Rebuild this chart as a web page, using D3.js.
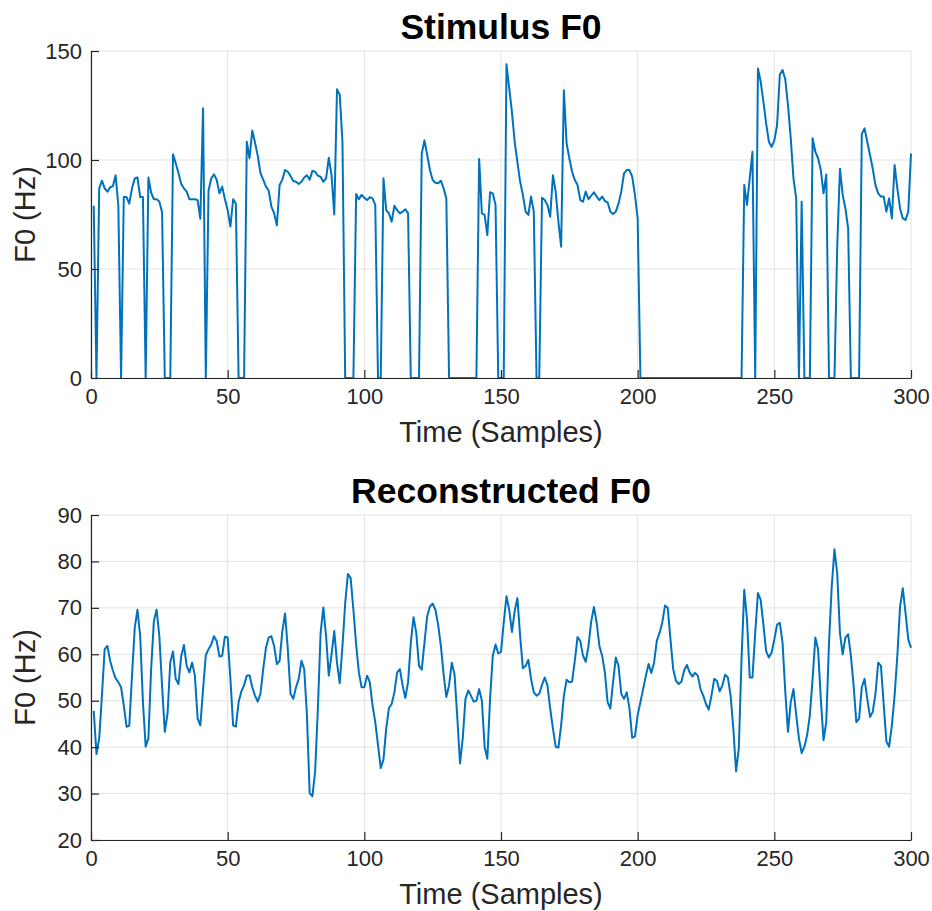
<!DOCTYPE html>
<html>
<head>
<meta charset="utf-8">
<script src="https://cdn.jsdelivr.net/npm/d3@7"></script>
<style>
  html, body { margin: 0; padding: 0; background: #fff; }
  svg { display: block; }
  text { font-family: "Liberation Sans", Arial, Helvetica, sans-serif; }
</style>
</head>
<body>
<svg id="chart" width="932" height="911"></svg>
<script>
// ---- DATA (samples 1..300) ----
const stimulusF0 = [
  79, 0, 87, 90.5, 87, 85.5, 87.5, 88, 93, 79,
  0, 83, 83, 80, 87, 91.5, 92, 83, 83, 0,
  92, 85, 82, 82, 81, 76, 0, 0, 0, 102.6,
  98.5, 94, 89, 87, 85.5, 82, 82, 82, 81.6, 73,
  123.7, 0, 86, 91.6, 93.4, 90.8, 84.7, 87.8, 82, 77,
  69.5, 82, 80, 0, 0, 0, 108.4, 100.8, 113.5, 108,
  102, 94, 91, 87.8, 86, 78.6, 75.5, 70, 88.5, 91,
  95.4, 94.6, 92.7, 90.4, 90, 89, 90, 92, 93, 91,
  95, 94.6, 92.8, 92.3, 90, 91.6, 101, 93, 75, 132.4,
  130, 108.4, 0, 0, 0, 0, 84.4, 82, 84, 82.7,
  81.6, 82.9, 82.4, 79.4, 0, 0, 91.6, 77, 75.5, 71.7,
  79, 77, 75.5, 76.3, 77.4, 75.5, 0, 0, 0, 0,
  103, 109, 102.3, 95.4, 90.8, 89.6, 89.3, 90.5, 87, 82.4,
  0, 0, 0, 0, 0, 0, 0, 0, 0, 0,
  0, 100.5, 75.5, 74.8, 65.6, 85.2, 84.7, 79.4, 0, 0,
  0, 143.9, 133, 122, 108.4, 99, 90, 84, 76.3, 74.8,
  83.2, 76.3, 0, 0, 82.7, 81.6, 79.4, 74, 93, 85.5,
  71.7, 60.2, 132, 107.6, 100.8, 94.6, 90.8, 88.5, 81.6, 80.9,
  85.5, 82, 83.6, 85.2, 83.2, 81.6, 83.2, 81.2, 80.6, 76.3,
  75.2, 76.3, 80, 85.5, 93.9, 95.4, 95.4, 92.4, 84, 73.2,
  0, 0, 0, 0, 0, 0, 0, 0, 0, 0,
  0, 0, 0, 0, 0, 0, 0, 0, 0, 0,
  0, 0, 0, 0, 0, 0, 0, 0, 0, 0,
  0, 0, 0, 0, 0, 0, 0, 0, 88.5, 79.4,
  91.6, 103.8, 0, 142, 136, 126.8, 116.8, 108.4, 106, 109,
  116, 139, 141.3, 137, 125, 110, 91.6, 82.4, 0, 80.9,
  0, 0, 0, 110, 103.8, 100.8, 95.4, 84.7, 93.4, 0,
  0, 0, 60, 96, 84, 77.8, 68.7, 0, 0, 0,
  0, 112, 114.5, 108.4, 102.3, 96, 88.5, 84.7, 83.2, 83.2,
  76.3, 82.4, 73.2, 97.7, 87, 77.8, 73.2, 72.5, 76.3, 103
];

const reconstructedF0 = [
  47.8, 38.5, 41.9, 51.1, 61.1, 61.8, 58.6, 56.5, 54.8, 54,
  52.9, 49, 44.4, 44.6, 55.4, 65.7, 69.6, 63.9, 49.7, 40.1,
  41.9, 56.8, 67.1, 69.6, 63.9, 53.2, 43.3, 47.2, 58.3, 60.6,
  54.7, 53.6, 59.6, 62, 57.5, 56.1, 58.2, 55.4, 46.2, 44.7,
  52.5, 59.8, 61.1, 62.1, 63.9, 62.8, 59.5, 59.7, 63.8, 63.6,
  54.7, 44.7, 44.4, 49.7, 52, 53.3, 55.4, 55.5, 52.9, 51.1,
  49.8, 51.5, 56.8, 61.4, 63.6, 63.9, 61.8, 57.9, 58.6, 65,
  68.8, 61.1, 51.5, 50.4, 52.9, 54.7, 58.6, 56.8, 46.9, 30.1,
  29.4, 34.8, 48.3, 64.6, 70.1, 63.9, 55.4, 60, 65, 58.2,
  53.8, 61.8, 71, 77.3, 76.4, 69.6, 62.1, 56.1, 52.9, 52.9,
  55.4, 54, 49, 45.4, 40.5, 35.5, 37.3, 44, 48.4, 49.3,
  51.8, 56.1, 56.8, 53.3, 50.6, 54, 62.5, 68, 64.6, 57.5,
  56.7, 62.5, 68.2, 70.3, 70.9, 69.6, 66.4, 61.8, 55.7, 50.8,
  53.3, 58.2, 55.7, 46.5, 36.5, 41.9, 50.4, 52.2, 51.1, 49.8,
  50, 52.5, 50, 40.1, 37.5, 50.4, 59.7, 62.1, 60.2, 60.5,
  66.8, 72.5, 69.6, 64.8, 69.3, 72.1, 63.9, 57, 57.5, 58.8,
  54.7, 51.8, 51.1, 51.5, 53.4, 55, 53.3, 48.3, 44, 40.1,
  39.9, 44.7, 51.1, 54.5, 54, 54.1, 58.6, 63.7, 62.9, 59.7,
  58.4, 61.8, 67.1, 70.2, 66.8, 61.8, 59.7, 56.1, 49.7, 48.3,
  54, 59.3, 57.5, 51.5, 50.4, 51.8, 48.3, 42, 42.3, 46.9,
  49.7, 52.5, 55.4, 57.9, 56, 58.2, 62.9, 64.6, 66.8, 70.5,
  70, 63.2, 56.8, 54.3, 53.6, 54.1, 56.5, 57.7, 56.1, 55.2,
  56, 55.4, 52.5, 51.1, 49.3, 48.1, 51.1, 54.7, 54.3, 52,
  53.3, 55.6, 55, 51.1, 44, 34.8, 39.7, 58.9, 73.9, 67.5,
  55, 55, 64.6, 73.2, 71.7, 66.4, 60.7, 59.3, 60.4, 63.2,
  66.4, 66.8, 62.5, 52, 43.3, 49.7, 52.5, 46.9, 41.9, 38.7,
  40.1, 42.6, 46.9, 54.7, 63.6, 61.1, 50.4, 41.5, 45.4, 62.5,
  74.6, 82.6, 77.4, 64.6, 60, 63.6, 64.3, 59.7, 53.3, 45.4,
  46.1, 52.9, 54.7, 50.4, 46.5, 47.6, 51.5, 58.2, 57.5, 49.3,
  41.2, 40.1, 44.7, 51.1, 59.7, 70.3, 74.2, 68.9, 63.2, 61.4
];

const xTicks = [0, 50, 100, 150, 200, 250, 300];
const stimYTicks = [0, 50, 100, 150];
const reconYTicks = [20, 30, 40, 50, 60, 70, 80, 90];
const titles = ["Stimulus F0", "Reconstructed F0"];
const xLabel = "Time (Samples)";
const yLabel = "F0 (Hz)";

// ---- DRAW ----
const svg = d3.select("#chart");
const left = 91, right = 911;
const axisColor = "#262626", gridColor = "#e3e3e3", lineColor = "#0072BD";

const panels = [
  { data: stimulusF0, top: 51, bottom: 378, yDomain: [0, 150], yTicks: stimYTicks, title: titles[0] },
  { data: reconstructedF0, top: 515, bottom: 840, yDomain: [20, 90], yTicks: reconYTicks, title: titles[1] }
];

panels.forEach(p => {
  const g = svg.append("g");
  const x = d3.scaleLinear().domain([0, 300]).range([left, right]);
  const y = d3.scaleLinear().domain(p.yDomain).range([p.bottom, p.top]);

  // grid
  g.append("g").selectAll("line").data(xTicks).join("line")
    .attr("x1", d => x(d)).attr("x2", d => x(d))
    .attr("y1", p.top).attr("y2", p.bottom)
    .attr("stroke", gridColor).attr("stroke-width", 1);
  g.append("g").selectAll("line").data(p.yTicks).join("line")
    .attr("x1", left).attr("x2", right)
    .attr("y1", d => y(d)).attr("y2", d => y(d))
    .attr("stroke", gridColor).attr("stroke-width", 1);

  // line
  const line = d3.line().x((d, i) => x(i + 1)).y(d => y(d));
  g.append("path").datum(p.data)
    .attr("d", line)
    .attr("fill", "none")
    .attr("stroke", lineColor)
    .attr("stroke-width", 2)
    .attr("stroke-linejoin", "round");

  // axes
  const xAxis = d3.axisBottom(x).tickValues(xTicks).tickSizeInner(-8).tickSizeOuter(0).tickPadding(10);
  const gx = g.append("g").attr("transform", `translate(0,${p.bottom})`).call(xAxis);
  const yAxis = d3.axisLeft(y).tickValues(p.yTicks).tickSizeInner(-8).tickSizeOuter(0).tickPadding(9);
  const gy = g.append("g").attr("transform", `translate(${left},0)`).call(yAxis);
  [gx, gy].forEach(a => {
    a.select(".domain").attr("stroke", axisColor).attr("stroke-width", 1.2);
    a.selectAll(".tick line").attr("stroke", axisColor).attr("stroke-width", 1.2);
    a.selectAll(".tick text").attr("font-size", 22).attr("fill", axisColor)
      .style("font-family", '"Liberation Sans", Arial, Helvetica, sans-serif');
  });

  // title
  g.append("text").attr("x", (left + right) / 2).attr("y", p.top - 12)
    .attr("text-anchor", "middle").attr("font-size", 35.5).attr("font-weight", "bold")
    .style("fill", "#000").text(p.title);
  // x label
  g.append("text").attr("x", (left + right) / 2).attr("y", p.bottom + 64)
    .attr("text-anchor", "middle").attr("font-size", 29).style("fill", axisColor).text(xLabel);
  // y label
  g.append("text").attr("transform", `translate(35,${(p.top + p.bottom) / 2}) rotate(-90)`)
    .attr("text-anchor", "middle").attr("font-size", 29).style("fill", axisColor).text(yLabel);
});
</script>
</body>
</html>
